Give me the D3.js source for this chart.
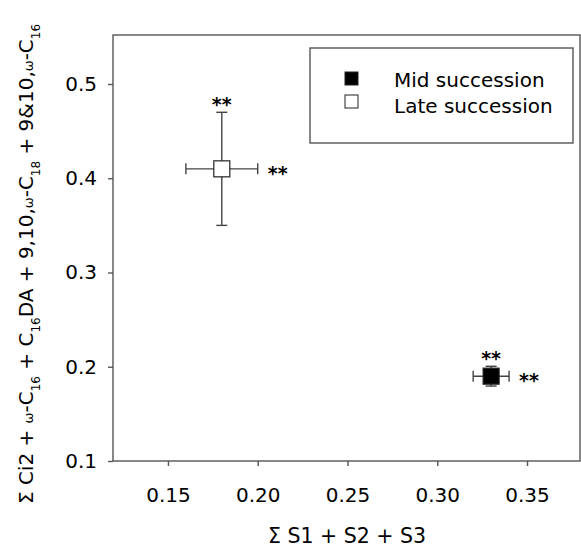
<!DOCTYPE html>
<html>
<head>
<meta charset="utf-8">
<script src="https://cdn.jsdelivr.net/npm/d3@7"></script>
<style>
  body { margin: 0; background: #fff; }
  text { font-family: "DejaVu Sans", Verdana, sans-serif; fill: #000; }
</style>
</head>
<body>
<script>
// data
let groups = ['Mid succession', 'Late succession'];
let xVals = [0.33, 0.18];
let yVals = [0.19, 0.41];
let xErr = [0.01, 0.02];
let yErr = [0.0105, 0.06];
let fills = ['#000', '#fff'];
let xTicks = [0.15, 0.20, 0.25, 0.30, 0.35];
let yTicks = [0.1, 0.2, 0.3, 0.4, 0.5];

let margin = { top: 35, left: 113, bottom: 87, right: 1 };
let width = 581 - margin.left - margin.right;
let height = 548 - margin.top - margin.bottom;

let svg = d3.select('body').append('svg')
  .attr('width', 581).attr('height', 548);

let g = svg.append('g').attr('transform', 'translate(' + margin.left + ',' + margin.top + ')');

let x = d3.scaleLinear().domain([0.1194, 0.3795]).range([0, width]);
let y = d3.scaleLinear().domain([0.1, 0.552]).range([height, 0]);

// frame
g.append('rect').attr('width', width).attr('height', height)
  .attr('fill', 'none').attr('stroke', '#555').attr('stroke-width', 1.4);

let xAxis = g.append('g').attr('transform', 'translate(0,' + height + ')')
  .call(d3.axisBottom(x).tickValues(xTicks).tickFormat(d3.format('.2f')).tickSize(5).tickPadding(22));
let yAxis = g.append('g')
  .call(d3.axisLeft(y).tickValues(yTicks).tickFormat(d3.format('.1f')).tickSize(5).tickPadding(11));
[xAxis, yAxis].forEach(function(a) {
  a.select('.domain').remove();
  a.selectAll('line').attr('stroke', '#555').attr('stroke-width', 1.4);
  a.selectAll('text').style('font-size', '20px').attr('font-family', '"DejaVu Sans", Verdana, sans-serif');
});

// error bars
let cap = 5.5;
groups.forEach(function(name, i) {
  let cx = x(xVals[i]), cy = y(yVals[i]);
  let eb = g.append('g').attr('stroke', '#444').attr('stroke-width', 1.4);
  eb.append('line').attr('x1', x(xVals[i] - xErr[i])).attr('x2', x(xVals[i] + xErr[i]))
    .attr('y1', cy).attr('y2', cy);
  eb.append('line').attr('x1', cx).attr('x2', cx)
    .attr('y1', y(yVals[i] - yErr[i])).attr('y2', y(yVals[i] + yErr[i]));
  [xVals[i] - xErr[i], xVals[i] + xErr[i]].forEach(function(v) {
    eb.append('line').attr('x1', x(v)).attr('x2', x(v))
      .attr('y1', cy - cap).attr('y2', cy + cap);
  });
  [yVals[i] - yErr[i], yVals[i] + yErr[i]].forEach(function(v) {
    eb.append('line').attr('x1', cx - cap).attr('x2', cx + cap)
      .attr('y1', y(v)).attr('y2', y(v));
  });
  g.append('rect').attr('x', cx - 8).attr('y', cy - 8)
    .attr('width', 16).attr('height', 16)
    .attr('fill', fills[i]).attr('stroke', '#222').attr('stroke-width', 1.2);
  // significance stars
  g.append('text').attr('x', cx).attr('y', y(yVals[i] + yErr[i]) - 1)
    .attr('text-anchor', 'middle').style('font-size', '19px').style('font-weight', 'bold').text('**');
  g.append('text').attr('x', x(xVals[i] + xErr[i]) + 10).attr('y', cy + 11)
    .style('font-size', '19px').style('font-weight', 'bold').text('**');
});

// legend
let leg = svg.append('g').attr('transform', 'translate(310,48)');
leg.append('rect').attr('width', 263).attr('height', 95)
  .attr('fill', '#fff').attr('stroke', '#555').attr('stroke-width', 1.4);
groups.forEach(function(name, i) {
  leg.append('rect').attr('x', 35).attr('y', 24 + i * 23).attr('width', 13).attr('height', 13)
    .attr('fill', fills[i]).attr('stroke', '#222');
  leg.append('text').attr('x', 84).attr('y', 39 + i * 26).style('font-size', '20px').text(name);
});

// x label
svg.append('text').attr('x', 347).attr('y', 543).attr('text-anchor', 'middle')
  .style('font-size', '20.5px').text('\u03A3 S1 + S2 + S3');

// y label with subscripts
let yl = svg.append('text').attr('transform', 'translate(33,264) rotate(-90)')
  .attr('text-anchor', 'middle').style('font-size', '20px');
let parts = [
  ['\u03A3 Ci2 + ', 0], ['\u03C9', 2], ['-C', 0], ['16', 1], [' + C', 0], ['16', 1], ['DA + 9,10,', 0],
  ['\u03C9', 2], ['-C', 0], ['18', 1], [' + 9&10,', 0], ['\u03C9', 2], ['-C', 0], ['16', 1]
];
parts.forEach(function(p) {
  let t = yl.append('tspan').text(p[0]);
  if (p[1] === 1) t.attr('baseline-shift', 'sub').style('font-size', '12px');
  if (p[1] === 2) t.style('font-size', '13px');
});
</script>
</body>
</html>
